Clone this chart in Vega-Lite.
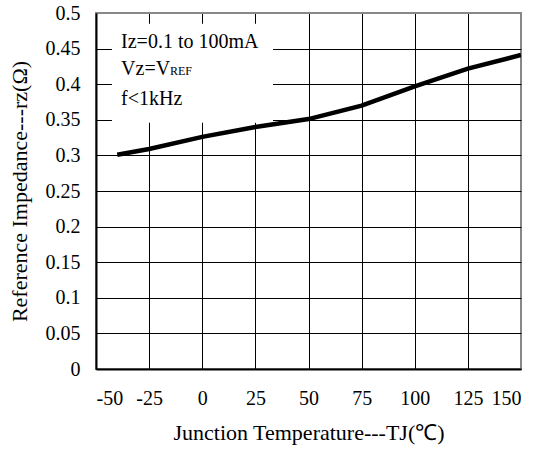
{
  "$schema": "https://vega.github.io/schema/vega-lite/v6.json",
  "width": 425,
  "height": 356,
  "autosize": {"type": "none"},
  "padding": {"left": 96, "top": 13, "right": 18, "bottom": 88},
  "background": "white",
  "config": {
    "view": {"stroke": "#888888", "strokeWidth": 2},
    "axis": {
      "labelFont": "Liberation Serif",
      "titleFont": "Liberation Serif",
      "labelFontSize": 20,
      "titleFontSize": 22,
      "titleFontWeight": "normal",
      "labelColor": "black",
      "titleColor": "black",
      "labelOverlap": false,
      "ticks": false,
      "grid": true,
      "gridWidth": 1,
      "gridOpacity": 1,
      "domainColor": "black",
      "domainWidth": 2
    }
  },
  "encoding": {
    "x": {"field": "x", "type": "quantitative", "scale": {"domain": [-50, 150], "nice": false},
      "axis": {
        "values": [-50, -25, 0, 25, 50, 75, 100, 125, 150],
        "labelExpr": "'' + datum.value",
        "labelPadding": 19,
        "title": "Junction Temperature---TJ(℃)",
        "titlePadding": 14,
        "gridColor": {"condition": {"test": "datum.value == 150", "value": "#888888"}, "value": "black"}
      }},
    "y": {"field": "y", "type": "quantitative", "scale": {"domain": [0, 0.5], "nice": false},
      "axis": {
        "values": [0, 0.05, 0.1, 0.15, 0.2, 0.25, 0.3, 0.35, 0.4, 0.45, 0.5],
        "format": "~g",
        "labelPadding": 16,
        "title": "Reference Impedance---rz(Ω)",
        "titlePadding": 14,
        "gridColor": {"condition": {"test": "datum.value == 0.5", "value": "#888888"}, "value": "black"}
      }}
  },
  "layer": [
    {
      "data": {"values": [{"x": -42.5, "x2": 33.3, "y": 0.346, "y2": 0.485}]},
      "mark": {"type": "rect", "fill": "white", "stroke": null},
      "encoding": {
        "x2": {"field": "x2"},
        "y2": {"field": "y2"}
      }
    },
    {
      "data": {"values": [
        {"x": -38.2, "y": 0.4513, "label": "Iz=0.1 to 100mA"},
        {"x": -38.2, "y": 0.4134, "label": "Vz=V"},
        {"x": -38.2, "y": 0.371, "label": "f<1kHz"}
      ]},
      "mark": {"type": "text", "align": "left", "baseline": "alphabetic", "font": "Liberation Serif", "fontSize": 20, "color": "black"},
      "encoding": {
        "text": {"field": "label"}
      }
    },
    {
      "data": {"values": [{"x": -15.2, "y": 0.4134, "label": "REF"}]},
      "mark": {"type": "text", "align": "left", "baseline": "alphabetic", "font": "Liberation Serif", "fontSize": 12, "color": "black"},
      "encoding": {
        "text": {"field": "label"}
      }
    },
    {
      "data": {"values": [
        {"x": -40, "y": 0.301},
        {"x": -25, "y": 0.309},
        {"x": 0, "y": 0.326},
        {"x": 25, "y": 0.340},
        {"x": 50, "y": 0.351},
        {"x": 75, "y": 0.370},
        {"x": 100, "y": 0.397},
        {"x": 125, "y": 0.422},
        {"x": 150, "y": 0.441}
      ]},
      "mark": {"type": "line", "color": "black", "strokeWidth": 4.5, "interpolate": "linear", "clip": true},
      "encoding": {}
    }
  ]
}
